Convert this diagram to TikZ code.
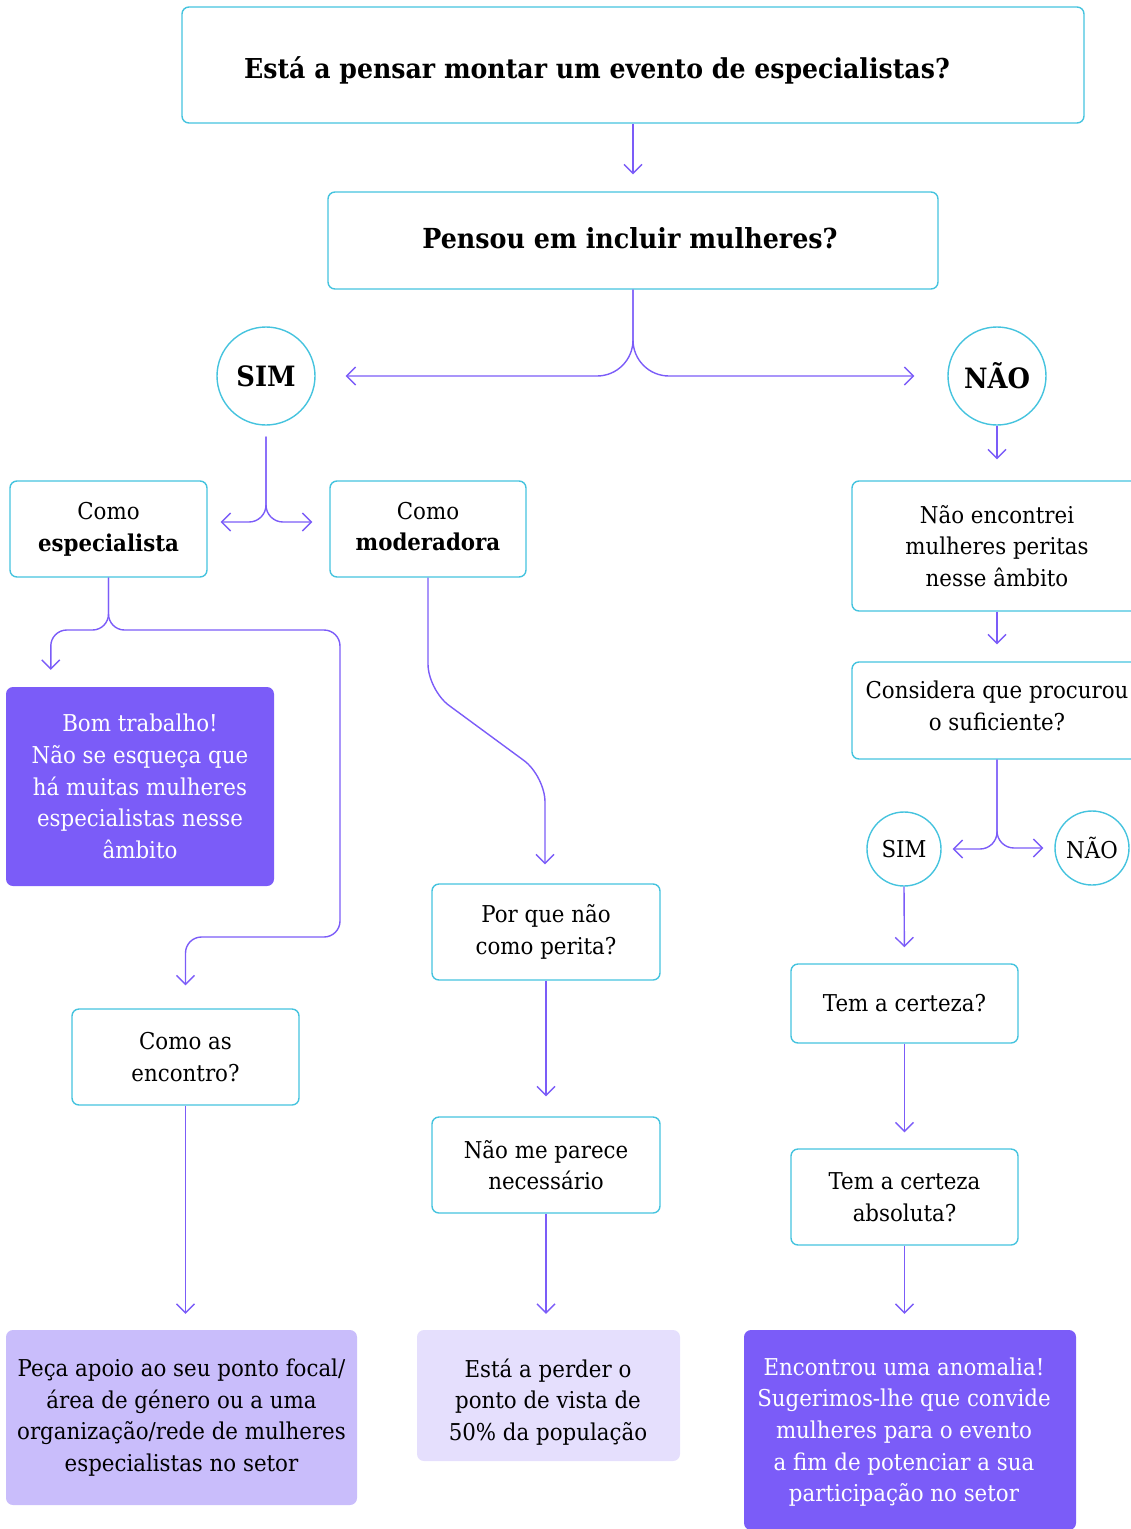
\documentclass[tikz,border=0pt]{standalone}
\usepackage{fontspec}
\setmainfont{DejaVu Serif}[FakeStretch=0.92]
\usetikzlibrary{arrows.meta}
\definecolor{lin}{HTML}{7B5CF8}
\definecolor{cy}{HTML}{45C3DE}
\definecolor{pdark}{HTML}{7B5CF8}
\definecolor{plight}{HTML}{C9BDFB}
\definecolor{pvlight}{HTML}{E5DFFD}
\begin{document}
\begin{tikzpicture}[x=1pt,y=-1pt,
  body/.style={font=\fontsize{23.2}{31.7}\selectfont},
  box/.style={draw=cy, line width=1.4pt, rounded corners=7pt, align=center, inner sep=0pt, body},
  fillbox/.style={rounded corners=7pt, align=center, inner sep=0pt, body},
  txt/.style={align=center, inner sep=0pt, body},
  circ/.style={circle, draw=cy, line width=1.4pt, inner sep=0pt, align=center},
  arr/.style={draw=lin, line width=1.4pt, -{Straight Barb[length=9pt,width=18pt,line width=1.4pt]}},
]
\useasboundingbox (0,0) rectangle (1131,1529);
\clip (0,0) rectangle (1131,1529);

% top boxes
\node[box, minimum width=902pt, minimum height=116pt] (box1) at (633,65) {};
\node[font=\bfseries\fontsize{27.4}{30}\selectfont, inner sep=0pt] (t1) at (597,70) {Está a pensar montar um evento de especialistas?};
\node[box, minimum width=610pt, minimum height=97pt, font=\bfseries\fontsize{27.6}{30}\selectfont] (box2) at (633,240.5) {};
\node[font=\bfseries\fontsize{27.6}{30}\selectfont, inner sep=0pt] (t2) at (630,238) {Pensou em incluir mulheres?};

% circles
\node[circ, minimum size=98pt, font=\bfseries\fontsize{28}{30}\selectfont] (sim) at (266,376) {SIM};
\node[circ, minimum size=98pt, font=\bfseries\fontsize{28}{30}\selectfont] (nao) at (997,376) {NÃO};
\node[circ, minimum size=74pt, body] (ssim) at (904,849) {SIM};
\node[circ, minimum size=74pt, body] (snao) at (1092,848) {NÃO};

% left column
\node[box, minimum width=197pt, minimum height=96pt] (esp) at (108.5,529) {Como\\\textbf{especialista}};
\node[fillbox, fill=pdark, text=white, minimum width=268pt, minimum height=199pt] (bom) at (140,786.5) {Bom trabalho!\\Não se esqueça que\\há muitas mulheres\\especialistas nesse\\âmbito};
\node[box, minimum width=227pt, minimum height=96pt] (enc) at (185.5,1057) {Como as\\encontro?};
\node[fillbox, fill=plight, minimum width=351pt, minimum height=175pt] (peca) at (181.5,1417.5) {Peça apoio ao seu ponto focal/\\área de género ou a uma\\organização/rede de mulheres\\especialistas no setor};

% middle column
\node[box, minimum width=196pt, minimum height=96pt] (mod) at (428,529) {};
\node[txt] (modt) at (428,526.5) {Como\\\textbf{moderadora}};
\node[box, minimum width=228pt, minimum height=96pt] (perita) at (546,932) {Por que não\\como perita?};
\node[box, minimum width=228pt, minimum height=96pt] (nec) at (546,1165) {Não me parece\\necessário};
\node[fillbox, fill=pvlight, minimum width=263pt, minimum height=131pt] (perder) at (548.5,1395.5) {};
\node[txt] (perdert) at (548,1402) {Está a perder o\\ponto de vista de\\50\% da população};

% right column
\node[box, minimum width=290pt, minimum height=130pt] (naoenc) at (997,546) {Não encontrei\\mulheres peritas\\nesse âmbito};
\node[box, minimum width=290pt, minimum height=97pt] (cons) at (997,710.5) {};
\node[txt] (const) at (997,706) {Considera que procurou\\o suficiente?};
\node[box, minimum width=227pt, minimum height=79pt] (cert) at (904.5,1003.5) {Tem a certeza?};
\node[box, minimum width=227pt, minimum height=96pt] (abs) at (904.5,1197) {Tem a certeza\\absoluta?};
\node[fillbox, fill=pdark, minimum width=332pt, minimum height=200pt] (anom) at (910,1430) {};
\node[txt, text=white] (anomt) at (904,1432) {Encontrou uma anomalia!\\Sugerimos-lhe que convide\\mulheres para o evento\\a fim de potenciar a sua\\participação no setor};

% helper coordinates
\coordinate (bomin) at ([xshift=45pt,yshift=17pt]bom.north west);
\coordinate (er) at (340,630);
\coordinate (eb) at (340,937);
\coordinate (m1) at (428,690);
\coordinate (m2) at (545,776);

% connectors
\draw[arr, shorten >=17pt] (box1.south) -- (box2.north);
\draw[arr, rounded corners=36pt, shorten >=30pt] (box2.south) |- (sim.east);
\draw[arr, rounded corners=36pt, shorten >=33pt] (box2.south) |- (nao.west);
\draw[arr, rounded corners=17pt, shorten <=11pt, shorten >=13pt] (sim.south) |- ([yshift=7pt]esp.east);
\draw[arr, rounded corners=17pt, shorten <=11pt, shorten >=17pt] (sim.south) |- ([yshift=7pt]mod.west);
\draw[arr, shorten >=21pt] (nao.south) -- (naoenc.north);
\draw[arr, shorten >=17pt] (naoenc.south) -- (cons.north);
\draw[arr, rounded corners=17pt, shorten >=11pt] (cons.south) |- (ssim.east);
\draw[arr, rounded corners=17pt, shorten >=11pt] (cons.south) |- (snao.west);
\draw[arr, shorten >=16pt] (ssim.south) -- (cert.north);
\draw[arr, shorten >=16pt] (cert.south) -- (abs.north);
\draw[arr, shorten >=16pt] (abs.south) -- (abs.south |- anom.north);
\draw[arr, rounded corners=16pt] (esp.south) |- (er -| bomin) -- (bomin);
\draw[arr, rounded corners=16pt, shorten >=23pt] (esp.south) |- (er) -- (eb) -| (enc.north);
\draw[arr, rounded corners=26pt, shorten >=19pt] (mod.south) -- (m1) -- (m2) -- (m2 |- perita.north);
\draw[arr, shorten >=16pt] (enc.south) -- (enc.south |- peca.north);
\draw[arr, shorten >=20pt] (perita.south) -- (nec.north);
\draw[arr, shorten >=16pt] (nec.south) -- (nec.south |- perder.north);
\end{tikzpicture}
\end{document}
